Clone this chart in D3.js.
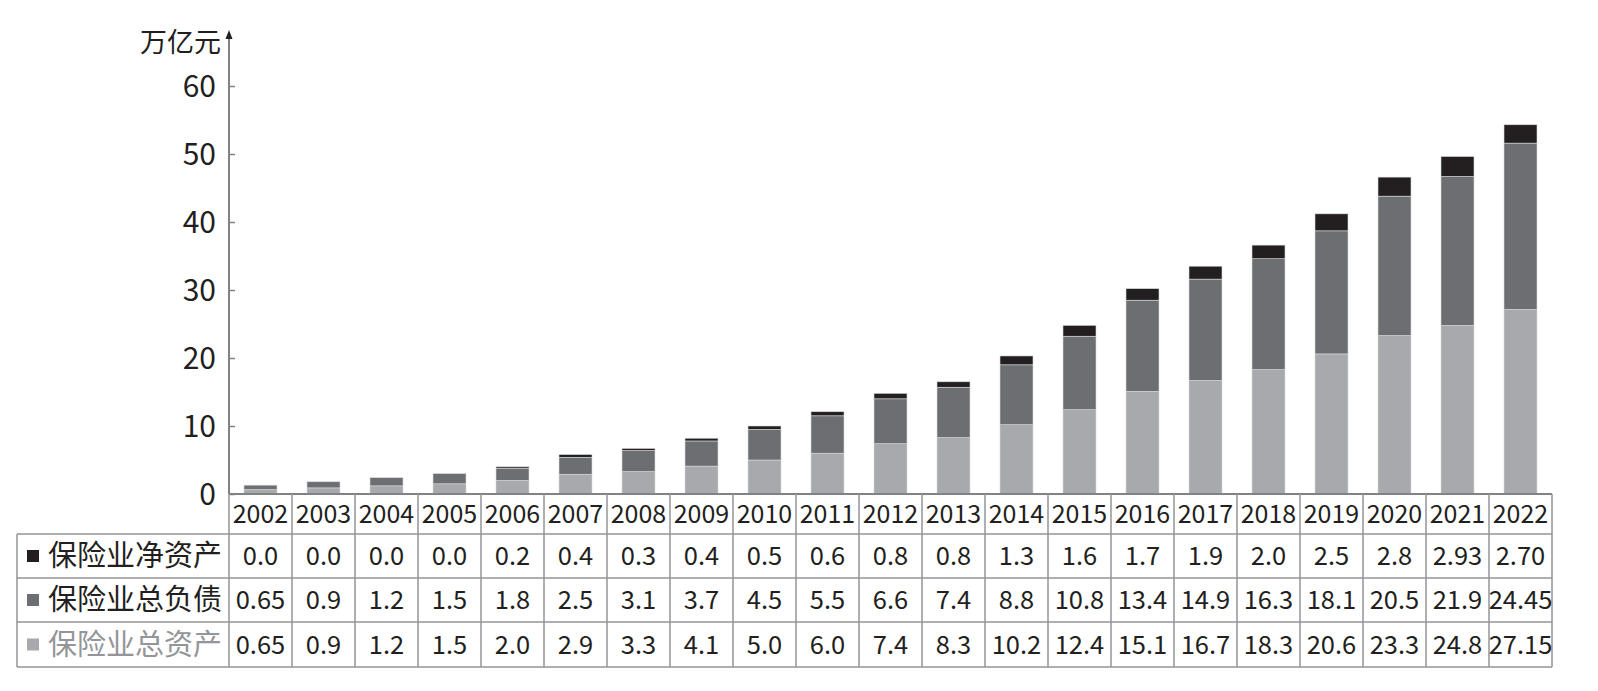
<!DOCTYPE html>
<html><head><meta charset="utf-8">
<script src="https://cdn.jsdelivr.net/npm/d3@7"></script>
<style>
html,body{margin:0;padding:0;background:#fff;}
svg text{font-family:"Noto Sans CJK SC","Noto Sans",sans-serif;font-weight:400;}
</style></head>
<body>
<svg id="chart" width="1598" height="691"></svg>
<script>
const years = ["2002","2003","2004","2005","2006","2007","2008","2009","2010","2011","2012","2013","2014","2015","2016","2017","2018","2019","2020","2021","2022"];
const netAssets = ["0.0","0.0","0.0","0.0","0.2","0.4","0.3","0.4","0.5","0.6","0.8","0.8","1.3","1.6","1.7","1.9","2.0","2.5","2.8","2.93","2.70"];
const liabilities = ["0.65","0.9","1.2","1.5","1.8","2.5","3.1","3.7","4.5","5.5","6.6","7.4","8.8","10.8","13.4","14.9","16.3","18.1","20.5","21.9","24.45"];
const totalAssets = ["0.65","0.9","1.2","1.5","2.0","2.9","3.3","4.1","5.0","6.0","7.4","8.3","10.2","12.4","15.1","16.7","18.3","20.6","23.3","24.8","27.15"];
const seriesNames = ["保险业净资产","保险业总负债","保险业总资产"];
const yTicks = [0,10,20,30,40,50,60];
const unitLabel = "万亿元";

const colors = {"保险业净资产":"#231f20","保险业总负债":"#6d6e71","保险业总资产":"#a7a9ac"};
const textColors = {"保险业净资产":"#231f20","保险业总负债":"#231f20","保险业总资产":"#939598"};
const seriesData = {"保险业净资产":netAssets,"保险业总负债":liabilities,"保险业总资产":totalAssets};

const svg = d3.select("#chart");
const left = 229, right = 1552, base = 494;
const x = d3.scaleBand().domain(years).range([left, right]).paddingInner(0).paddingOuter(0);
const y = d3.scaleLinear().domain([0,60]).range([base, 86]);

// stacked data: bottom 总资产, middle 总负债, top 净资产
const rows = years.map((yr,i)=>({year:yr, "保险业总资产":+totalAssets[i], "保险业总负债":+liabilities[i], "保险业净资产":+netAssets[i]}));
const stack = d3.stack().keys(["保险业总资产","保险业总负债","保险业净资产"]);
const stacked = stack(rows);
const barW = 33;
svg.append("g").selectAll("g").data(stacked).join("g")
  .attr("fill", d=>colors[d.key])
  .selectAll("rect").data(d=>d).join("rect")
  .attr("x", d=>x(d.data.year)+x.bandwidth()/2-barW/2)
  .attr("width", barW)
  .attr("y", d=>y(d[1]))
  .attr("height", d=>Math.max(0,y(d[0])-y(d[1])))
  .attr("stroke","#d8d9da").attr("stroke-width",0.6);

// y axis
const lineColor = "#808285";
const gy = svg.append("g").attr("transform",`translate(${left},0)`)
  .call(d3.axisRight(y).tickValues(yTicks).tickSize(6).tickFormat(""));
gy.select(".domain").remove();
gy.selectAll(".tick line").attr("stroke",lineColor).attr("stroke-width",1.5);
svg.append("line").attr("x1",left).attr("x2",left).attr("y1",base).attr("y2",36)
  .attr("stroke",lineColor).attr("stroke-width",2);
svg.append("path").attr("d",`M${left-3.5},${39} L${left},${30} L${left+3.5},${39} Z`).attr("fill","#231f20");
svg.append("g").selectAll("text").data(yTicks).join("text")
  .attr("x", 216).attr("y", d=>y(d)).attr("dy","0.36em")
  .attr("text-anchor","end").attr("font-size",30).attr("fill","#231f20")
  .text(d=>d);
svg.append("text").attr("x",221).attr("y",52).attr("text-anchor","end")
  .attr("font-size",27).attr("fill","#231f20").text(unitLabel);

// table
const tLeft = 17;
const rowTops = [494,534,578,622,667];
const tg = svg.append("g").attr("stroke","#939598").attr("stroke-width",1.5);
tg.append("line").attr("x1",left).attr("x2",right).attr("y1",base).attr("y2",base).attr("stroke",lineColor).attr("stroke-width",2);
[534,578,622,667].forEach(yy=>{
  tg.append("line").attr("x1",tLeft).attr("x2",right).attr("y1",yy).attr("y2",yy);
});
const bounds = years.map(yr=>x(yr)).concat([right]);
bounds.forEach((bx)=>{
  tg.append("line").attr("x1",bx).attr("x2",bx).attr("y1",base).attr("y2",667);
});
tg.append("line").attr("x1",tLeft).attr("x2",tLeft).attr("y1",534).attr("y2",667);

// year header
svg.append("g").selectAll("text").data(years).join("text")
  .attr("x", d=>x(d)+x.bandwidth()/2).attr("y", 514).attr("dy","0.36em")
  .attr("text-anchor","middle").attr("font-size",25).attr("fill","#231f20").text(d=>d);

seriesNames.forEach((name,ri)=>{
  const cy = (rowTops[ri+1]+rowTops[ri+2])/2;
  svg.append("rect").attr("x",27).attr("y",cy-6).attr("width",12).attr("height",12).attr("fill",colors[name]);
  svg.append("text").attr("x",48).attr("y",cy).attr("dy","0.36em")
    .attr("font-size",29).attr("fill",textColors[name]).text(name);
  svg.append("g").selectAll("text").data(seriesData[name]).join("text")
    .attr("x",(d,i)=>x(years[i])+x.bandwidth()/2).attr("y",cy).attr("dy","0.36em")
    .attr("text-anchor","middle").attr("font-size",25.5).attr("fill","#231f20").text(d=>d);
});
</script>
</body></html>
